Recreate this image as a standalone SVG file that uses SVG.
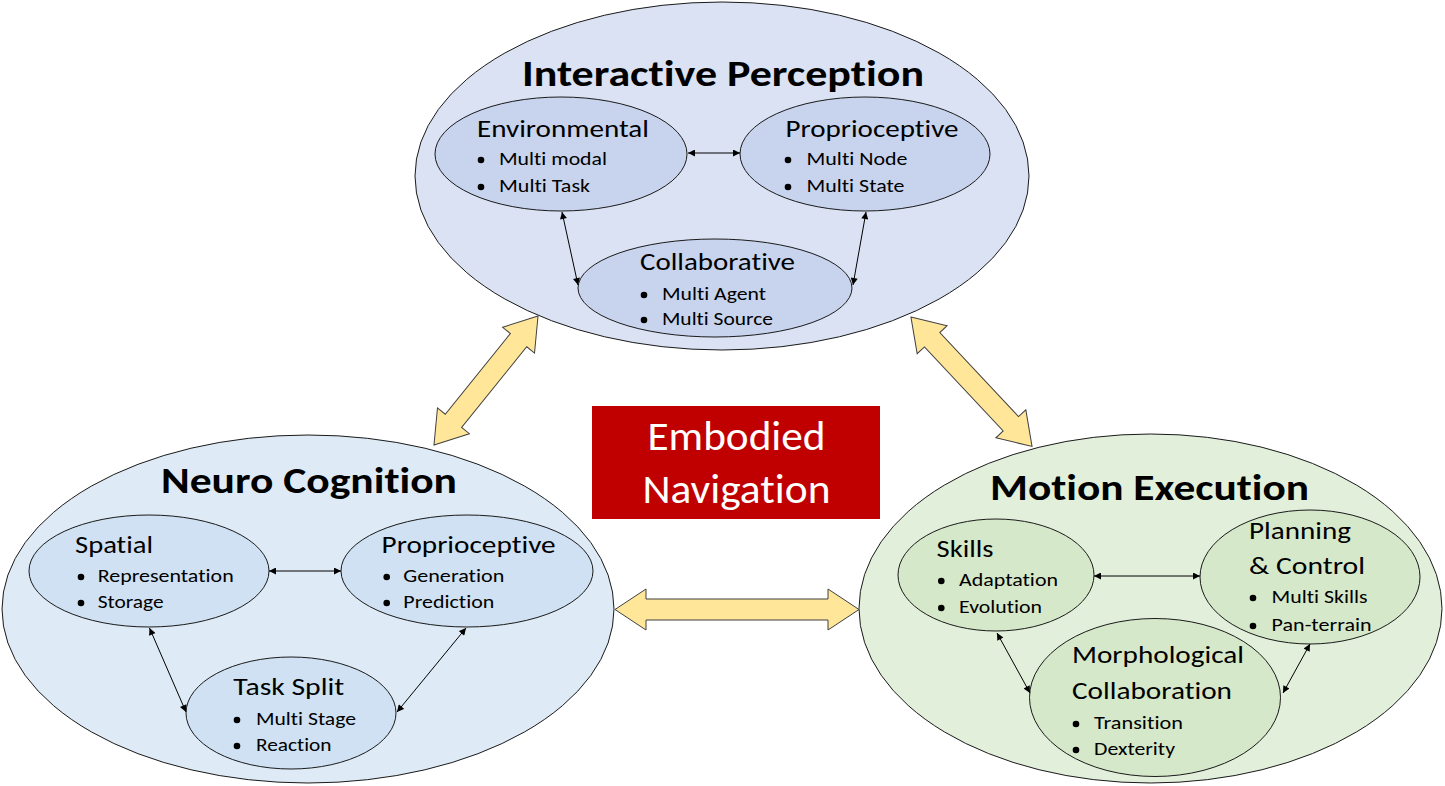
<svg xmlns="http://www.w3.org/2000/svg" width="1445" height="786" viewBox="0 0 1445 786">
<defs>
<style>
.big{stroke:#1a1a1a;stroke-width:1}
.sub{stroke:#1a1a1a;stroke-width:1}
.tp{fill:#DAE2F3}.tpi{fill:#C8D4EE}
.lf{fill:#DEEAF6}.lfi{fill:#CFE1F2}
.rt{fill:#E2EFDA}.rti{fill:#D5E8C9}
text{font-family:Carlito,Lato,"Open Sans",sans-serif;fill:#000;font-variant-ligatures:none}
.title{font-size:37px;font-weight:bold}
.head{font-size:23.5px}
.item{font-size:18.5px}
.emb{font-size:40px;fill:#fff}
.con{stroke:#000;stroke-width:1;fill:none;marker-start:url(#ah);marker-end:url(#ah)}
.big-arrow{fill:#FFE699;stroke:#404040;stroke-width:1}
</style>
<marker id="ah" viewBox="0 0 10 10" refX="10" refY="5" markerWidth="9" markerHeight="7" orient="auto-start-reverse" markerUnits="userSpaceOnUse">
<path d="M0,0 L10,5 L0,10 Z" fill="#000"/>
</marker>
</defs>
<rect width="1445" height="786" fill="#fff"/>

<g id="interactive-perception">
<ellipse class="big tp" cx="722" cy="176" rx="307" ry="174"/>
<text class="title" x="522" y="86" textLength="402" lengthAdjust="spacingAndGlyphs">Interactive Perception</text>
</g>
<g id="environmental">
<ellipse class="sub tpi" cx="561" cy="154" rx="126" ry="57"/>
<text class="head" x="477" y="137" textLength="172" lengthAdjust="spacingAndGlyphs">Environmental</text>
<circle cx="481" cy="160" r="3.3"/><text class="item" x="499" y="165" textLength="108" lengthAdjust="spacingAndGlyphs">Multi modal</text>
<circle cx="481" cy="187" r="3.3"/><text class="item" x="499" y="192" textLength="91" lengthAdjust="spacingAndGlyphs">Multi Task</text>
</g>
<g id="proprioceptive-top">
<ellipse class="sub tpi" cx="865" cy="154" rx="125" ry="57"/>
<text class="head" x="785.5" y="137" textLength="173" lengthAdjust="spacingAndGlyphs">Proprioceptive</text>
<circle cx="788" cy="160" r="3.3"/><text class="item" x="806.5" y="165" textLength="101" lengthAdjust="spacingAndGlyphs">Multi Node</text>
<circle cx="788" cy="187" r="3.3"/><text class="item" x="806.5" y="192" textLength="98" lengthAdjust="spacingAndGlyphs">Multi State</text>
</g>
<g id="collaborative">
<ellipse class="sub tpi" cx="715" cy="288" rx="137" ry="49"/>
<text class="head" x="640" y="270" textLength="155" lengthAdjust="spacingAndGlyphs">Collaborative</text>
<circle cx="644" cy="295" r="3.3"/><text class="item" x="662" y="300" textLength="104" lengthAdjust="spacingAndGlyphs">Multi Agent</text>
<circle cx="644" cy="320" r="3.3"/><text class="item" x="662" y="325" textLength="111" lengthAdjust="spacingAndGlyphs">Multi Source</text>
</g>

<g id="neuro-cognition">
<ellipse class="big lf" cx="308" cy="609" rx="306" ry="174"/>
<text class="title" x="161" y="493" textLength="296" lengthAdjust="spacingAndGlyphs">Neuro Cognition</text>
</g>
<g id="spatial">
<ellipse class="sub lfi" cx="149" cy="571" rx="120" ry="56"/>
<text class="head" x="75" y="553" textLength="78" lengthAdjust="spacingAndGlyphs">Spatial</text>
<circle cx="81" cy="577" r="3.3"/><text class="item" x="97.7" y="582" textLength="136" lengthAdjust="spacingAndGlyphs">Representation</text>
<circle cx="81" cy="603" r="3.3"/><text class="item" x="97.7" y="608" textLength="66" lengthAdjust="spacingAndGlyphs">Storage</text>
</g>
<g id="proprioceptive-left">
<ellipse class="sub lfi" cx="467" cy="571" rx="126" ry="56"/>
<text class="head" x="381.6" y="553" textLength="174" lengthAdjust="spacingAndGlyphs">Proprioceptive</text>
<circle cx="386.7" cy="577" r="3.3"/><text class="item" x="403.3" y="582" textLength="101" lengthAdjust="spacingAndGlyphs">Generation</text>
<circle cx="386.7" cy="603" r="3.3"/><text class="item" x="403.3" y="608" textLength="91" lengthAdjust="spacingAndGlyphs">Prediction</text>
</g>
<g id="task-split">
<ellipse class="sub lfi" cx="291" cy="713" rx="105" ry="56"/>
<text class="head" x="233.3" y="695" textLength="111" lengthAdjust="spacingAndGlyphs">Task Split</text>
<circle cx="237" cy="720" r="3.3"/><text class="item" x="256" y="725" textLength="100" lengthAdjust="spacingAndGlyphs">Multi Stage</text>
<circle cx="237" cy="746" r="3.3"/><text class="item" x="256" y="751" textLength="75.5" lengthAdjust="spacingAndGlyphs">Reaction</text>
</g>

<g id="motion-execution">
<ellipse class="big rt" cx="1150.5" cy="608.5" rx="291.5" ry="174.5"/>
<text class="title" x="990" y="500" textLength="319" lengthAdjust="spacingAndGlyphs">Motion Execution</text>
</g>
<g id="skills">
<ellipse class="sub rti" cx="996" cy="575" rx="98" ry="56"/>
<text class="head" x="936.5" y="557" textLength="57" lengthAdjust="spacingAndGlyphs">Skills</text>
<circle cx="941.3" cy="581" r="3.3"/><text class="item" x="959" y="586" textLength="99" lengthAdjust="spacingAndGlyphs">Adaptation</text>
<circle cx="941.3" cy="608" r="3.3"/><text class="item" x="959" y="613" textLength="83" lengthAdjust="spacingAndGlyphs">Evolution</text>
</g>
<g id="planning-control">
<ellipse class="sub rti" cx="1310" cy="577" rx="110" ry="67"/>
<text class="head" x="1249" y="539" textLength="102" lengthAdjust="spacingAndGlyphs">Planning</text>
<text class="head" x="1249" y="574" textLength="116" lengthAdjust="spacingAndGlyphs">&amp; Control</text>
<circle cx="1253" cy="598" r="3.3"/><text class="item" x="1271.6" y="603" textLength="96" lengthAdjust="spacingAndGlyphs">Multi Skills</text>
<circle cx="1253" cy="626" r="3.3"/><text class="item" x="1271.6" y="631" textLength="100" lengthAdjust="spacingAndGlyphs">Pan-terrain</text>
</g>
<g id="morphological-collaboration">
<ellipse class="sub rti" cx="1155" cy="697.5" rx="125.5" ry="79"/>
<text class="head" x="1072" y="663" textLength="172" lengthAdjust="spacingAndGlyphs">Morphological</text>
<text class="head" x="1072" y="699" textLength="160" lengthAdjust="spacingAndGlyphs">Collaboration</text>
<circle cx="1076" cy="724" r="3.3"/><text class="item" x="1094" y="729" textLength="89" lengthAdjust="spacingAndGlyphs">Transition</text>
<circle cx="1076" cy="750" r="3.3"/><text class="item" x="1094" y="755" textLength="81" lengthAdjust="spacingAndGlyphs">Dexterity</text>
</g>

<g id="embodied-navigation">
<rect x="592" y="406" width="288" height="113" fill="#C00000"/>
<text class="emb" x="736.5" y="450" text-anchor="middle" textLength="178" lengthAdjust="spacingAndGlyphs">Embodied</text>
<text class="emb" x="736.5" y="503" text-anchor="middle" textLength="188" lengthAdjust="spacingAndGlyphs">Navigation</text>
</g>

<g id="connectors">
<line class="con" x1="688" y1="153" x2="740" y2="153"/>
<line class="con" x1="562" y1="212" x2="578" y2="285"/>
<line class="con" x1="866" y1="212" x2="853" y2="285"/>
<line class="con" x1="269" y1="571" x2="341" y2="571"/>
<line class="con" x1="149.5" y1="628" x2="186" y2="712"/>
<line class="con" x1="466" y1="628" x2="397" y2="712"/>
<line class="con" x1="1094" y1="576" x2="1200" y2="576"/>
<line class="con" x1="997" y1="633" x2="1030" y2="693"/>
<line class="con" x1="1310" y1="644" x2="1283" y2="693"/>
<path class="big-arrow" transform="translate(737 609.5)" d="M-122,0 L-91,-20.5 L-91,-10.5 L91,-10.5 L91,-20.5 L122,0 L91,20.5 L91,10.5 L-91,10.5 L-91,20.5 Z"/>
<path class="big-arrow" transform="translate(486 380.5) rotate(-51.1)" d="M-82.85,0 L-51.85,-20.5 L-51.85,-10.5 L51.85,-10.5 L51.85,-20.5 L82.85,0 L51.85,20.5 L51.85,10.5 L-51.85,10.5 L-51.85,20.5 Z"/>
<path class="big-arrow" transform="translate(971.5 381.75) rotate(46.9)" d="M-88.6,0 L-57.6,-20.5 L-57.6,-10.5 L57.6,-10.5 L57.6,-20.5 L88.6,0 L57.6,20.5 L57.6,10.5 L-57.6,10.5 L-57.6,20.5 Z"/>
</g>
</svg>
